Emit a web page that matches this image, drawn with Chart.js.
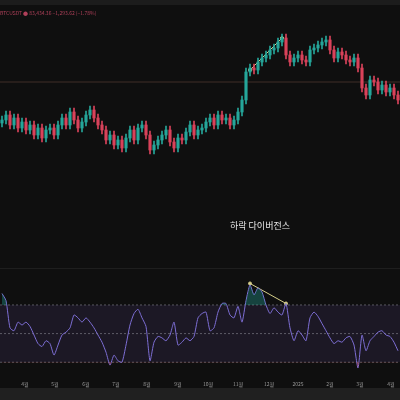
<!DOCTYPE html>
<html><head><meta charset="utf-8">
<script src="https://cdn.jsdelivr.net/npm/chart.js@4.4.1/dist/chart.umd.min.js"></script>
<style>
body{margin:0;background:#0f0f0f;width:400px;height:400px;overflow:hidden;position:relative;font-family:"Noto Sans CJK KR","Noto Sans",sans-serif}
#top{position:absolute;left:0;top:0;width:400px;height:5px;background:#1c1c1c}
#info{position:absolute;left:0;top:9px;font-size:5px;color:#b0405a}
#main{position:absolute;left:0;top:0}
#rsi{position:absolute;left:0;top:272px}
#note{position:absolute;left:230px;top:219px;font-size:9px;color:#e8e8e8}
#bottom{position:absolute;left:0;top:388px;width:400px;height:12px;background:#202020}
#sep{position:absolute;left:0;top:268px;width:400px;height:1px;background:#1e1e1e}
</style></head><body>
<div id="top"></div>
<canvas id="main" width="400" height="268"></canvas>
<div id="sep"></div>
<canvas id="rsi" width="400" height="116"></canvas>
<div id="bottom"></div>
<div id="info">BTCUSDT ● 83,434.36 −1,293.62 (−1.78%)</div>
<div id="note">하락 다이버전스</div>
<script>
// closing prices (arbitrary units)
const closes = [180,185,175,182,172,178,170,175,165,172,
  162,170,172,165,175,182,175,188,180,172,
  178,185,190,182,175,170,160,165,155,160,
  152,162,170,160,172,175,165,150,155,160,
  165,170,158,152,162,160,168,175,165,170,
  172,178,182,175,185,180,182,175,180,188,
  200,228,232,230,238,242,245,250,252,258,
  262,245,238,242,245,240,238,250,252,255,
  258,260,250,242,248,245,240,238,242,232,
  212,205,220,218,210,215,208,212,205,200];
const rsiValues = [78,73,54,52,58,56,58,55,49,43,
  41,45,43,35,42,49,51,54,63,61,
  58,61,58,54,49,44,37,28,35,31,
  30,42,56,64,67,61,55,31,44,48,
  47,45,49,58,42,44,47,45,48,61,
  64,65,52,54,65,71,71,63,61,69,
  58,73,84,77,82,79,70,64,68,65,
  63,71,54,45,52,49,45,61,65,62,
  57,52,47,43,45,44,47,48,42,26,
  49,38,45,48,51,52,49,48,44,38];
const monthPos = [5.75,13.25,21,28.5,36.25,44,51.5,59,66.75,74,82,89.5,97.25];
const monthLabels = ["4월","5월","6월","7월","8월","9월","10월","11월","12월","2025","2월","3월","4월"];
const priceLine = 218;
const divPrice = [{x:62,y:230},{x:70,y:262}];
const divRsi = [{x:62,y:85},{x:71,y:71}];

const UP = "#26a69a", DOWN = "#d9435b";
const opens = closes.map((c, i) => i === 0 ? c - 3 : closes[i - 1]);
const bodies = closes.map((c, i) => ({x: i, y: [opens[i], c]}));
const wicks = closes.map((c, i) => ({x: i, y: [Math.min(c, opens[i]) - 4, Math.max(c, opens[i]) + 4]}));
const colors = closes.map((c, i) => c >= opens[i] ? UP : DOWN);

const xScale = {type: "linear", min: -0.5, max: 99.5, display: false, offset: false};

const priceLinePlugin = {
  id: "priceLine",
  beforeDatasetsDraw(ch) {
    const {ctx, chartArea: a, scales: {y}} = ch;
    const py = y.getPixelForValue(priceLine);
    ctx.save();
    ctx.strokeStyle = "rgba(180,120,100,0.3)";
    ctx.lineWidth = 1;
    ctx.beginPath(); ctx.moveTo(a.left, py); ctx.lineTo(a.right, py); ctx.stroke();
    ctx.restore();
  }
};

new Chart(document.getElementById("main"), {
  type: "bar",
  data: {datasets: [
    {data: wicks, backgroundColor: colors, barThickness: 1, grouped: false},
    {data: bodies, backgroundColor: colors, barThickness: 2.5, grouped: false},
    {type: "line", data: divPrice, borderColor: "#d6cf8a", borderWidth: 1, pointRadius: 1.5, pointBackgroundColor: "#d6cf8a"}
  ]},
  options: {
    responsive: false, animation: false,
    layout: {padding: 0, autoPadding: false},
    plugins: {legend: {display: false}, tooltip: {enabled: false}},
    scales: {x: xScale, y: {min: 32, max: 300, display: false}}
  },
  plugins: [priceLinePlugin]
});

const bandPlugin = {
  id: "band",
  beforeDatasetsDraw(ch) {
    const {ctx, chartArea: a, scales: {y}} = ch;
    const y70 = y.getPixelForValue(70), y50 = y.getPixelForValue(50), y30 = y.getPixelForValue(30);
    ctx.save();
    ctx.fillStyle = "rgba(126,87,194,0.12)";
    ctx.fillRect(a.left, y70, a.right - a.left, y30 - y70);
    ctx.strokeStyle = "rgba(160,160,170,0.5)";
    ctx.setLineDash([2, 2]);
    ctx.lineWidth = 1;
    for (const py of [y70, y50, y30]) {
      ctx.beginPath(); ctx.moveTo(a.left, py); ctx.lineTo(a.right, py); ctx.stroke();
    }
    ctx.restore();
  },
  afterDraw(ch) {
    const {ctx, scales: {x}} = ch;
    ctx.save();
    ctx.fillStyle = "#9a9a9a";
    ctx.font = "5px 'Noto Sans CJK KR'";
    ctx.textAlign = "center";
    ctx.textBaseline = "middle";
    monthPos.forEach((p, i) => ctx.fillText(monthLabels[i], x.getPixelForValue(p), 112));
    ctx.restore();
  }
};

const rsiPts = rsiValues.map((v, i) => ({x: i, y: v}));
new Chart(document.getElementById("rsi"), {
  type: "line",
  data: {datasets: [
    {data: rsiPts, borderColor: "transparent", pointRadius: 0,
     fill: {target: {value: 70}, above: "rgba(38,166,154,0.35)", below: "transparent"}},
    {data: rsiPts, borderColor: "transparent", pointRadius: 0,
     fill: {target: {value: 30}, above: "transparent", below: "rgba(239,83,80,0.5)"}},
    {data: rsiPts, borderColor: "#7e6fd6", borderWidth: 1, pointRadius: 0, tension: 0.2},
    {data: divRsi, borderColor: "#d6cf8a", borderWidth: 1, pointRadius: 1.5, pointBackgroundColor: "#d6cf8a"}
  ]},
  options: {
    responsive: false, animation: false,
    layout: {padding: {bottom: 10}, autoPadding: false},
    plugins: {legend: {display: false}, tooltip: {enabled: false}},
    scales: {
      x: {type: "linear", min: -0.5, max: 99.5, display: false},
      y: {min: 19, max: 93, display: false}
    }
  },
  plugins: [bandPlugin]
});
</script>
</body></html>
